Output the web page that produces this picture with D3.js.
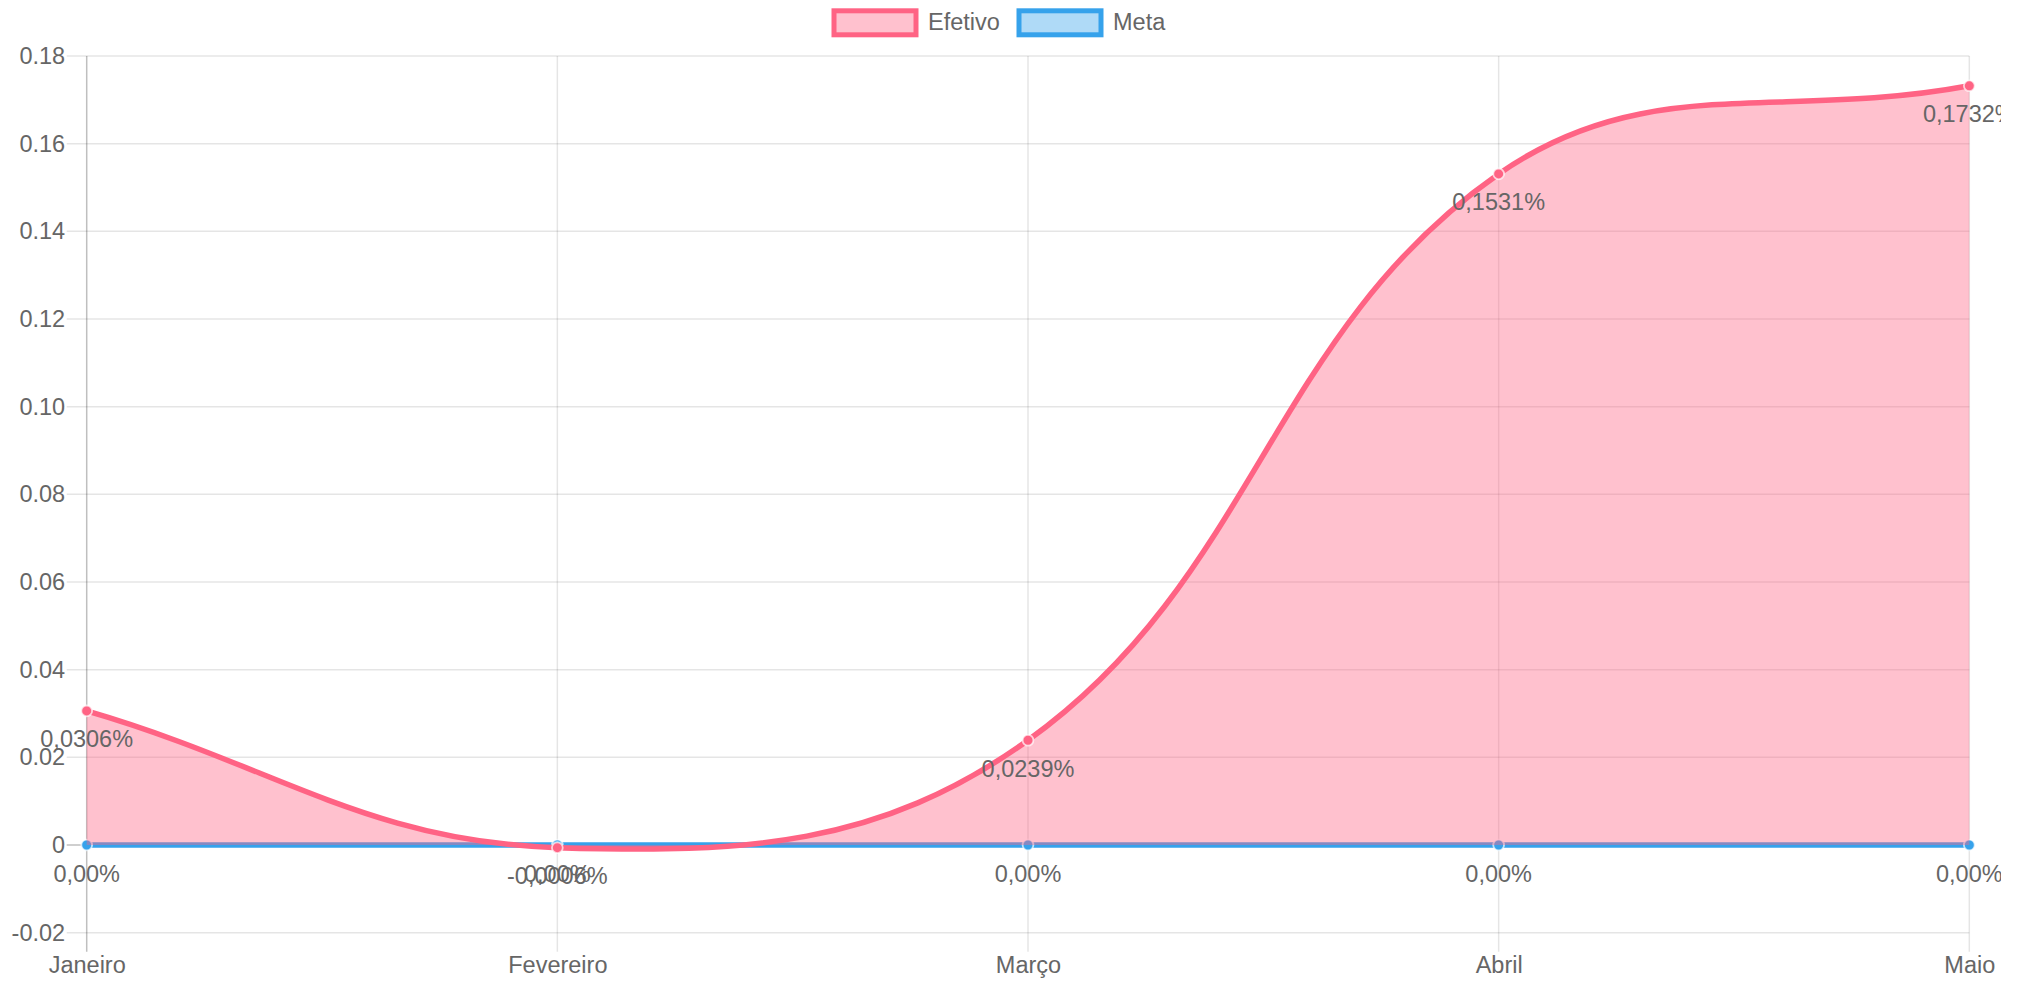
<!DOCTYPE html>
<html>
<head>
<meta charset="utf-8">
<script src="https://cdn.jsdelivr.net/npm/d3@7/dist/d3.min.js"></script>
<style>
  html, body { margin: 0; padding: 0; background: #fff; }
  svg { display: block; font-family: "Liberation Sans", Arial, Helvetica, sans-serif; }
</style>
</head>
<body>
<svg id="chart" width="2028" height="982"></svg>
<script>
// ---- data ----
const categories = ["Janeiro", "Fevereiro", "Março", "Abril", "Maio"];
const efetivo = [0.0306, -0.0006, 0.0239, 0.1531, 0.1732];
const meta = [0, 0, 0, 0, 0];
const efetivoLabels = ["0,0306%", "-0,0006%", "0,0239%", "0,1531%", "0,1732%"];
const metaLabels = ["0,00%", "0,00%", "0,00%", "0,00%", "0,00%"];
const yTicks = [-0.02, 0, 0.02, 0.04, 0.06, 0.08, 0.10, 0.12, 0.14, 0.16, 0.18];
const yTickLabels = ["-0.02", "0", "0.02", "0.04", "0.06", "0.08", "0.10", "0.12", "0.14", "0.16", "0.18"];
const seriesNames = ["Efetivo", "Meta"];

// ---- layout ----
const area = { left: 86.7, right: 1969.3, top: 56, bottom: 932.7 };
const FONT = 23.5;
const TXT = "#666";
const C_RED = "rgb(255,99,132)", C_RED_F = "rgba(255,99,132,0.4)";
const C_BLUE = "rgb(54,162,235)", C_BLUE_F = "rgba(54,162,235,0.4)";

const svg = d3.select("#chart");
const x = d3.scalePoint().domain(categories).range([area.left, area.right]);
const y = d3.scaleLinear().domain([-0.02, 0.18]).range([area.bottom, area.top]);

// clip for data labels (original canvas ends before the window edge)
svg.append("defs").append("clipPath").attr("id", "labelClip")
  .append("rect").attr("x", 0).attr("y", 0).attr("width", 2001).attr("height", 982);

// Chart.js-style bezier curve (tension 0.4, control points capped to chart area)
function ChartJsCurve(context) { this._context = context; }
ChartJsCurve.prototype = {
  areaStart() { this._line = 0; },
  areaEnd() { this._line = NaN; },
  lineStart() { this._xs = []; this._ys = []; },
  point(px, py) { this._xs.push(+px); this._ys.push(+py); },
  lineEnd() {
    const xs = this._xs, ys = this._ys, n = xs.length, ctx = this._context, t = 0.4;
    const cap = (v, a, b) => Math.max(Math.min(v, b), a);
    if (n) {
      if (this._line) ctx.lineTo(xs[0], ys[0]); else ctx.moveTo(xs[0], ys[0]);
      const pX = [], pY = [], nX = [], nY = [];
      for (let i = 0; i < n; i++) {
        const a = i > 0 ? i - 1 : i, c = i < n - 1 ? i + 1 : i;
        const d01 = Math.hypot(xs[i] - xs[a], ys[i] - ys[a]);
        const d12 = Math.hypot(xs[c] - xs[i], ys[c] - ys[i]);
        let s01 = d01 / (d01 + d12), s12 = d12 / (d01 + d12);
        if (isNaN(s01)) s01 = 0; if (isNaN(s12)) s12 = 0;
        const fa = t * s01, fb = t * s12;
        pX[i] = cap(xs[i] - fa * (xs[c] - xs[a]), area.left, area.right);
        pY[i] = cap(ys[i] - fa * (ys[c] - ys[a]), area.top, area.bottom);
        nX[i] = cap(xs[i] + fb * (xs[c] - xs[a]), area.left, area.right);
        nY[i] = cap(ys[i] + fb * (ys[c] - ys[a]), area.top, area.bottom);
      }
      for (let i = 0; i < n - 1; i++) {
        ctx.bezierCurveTo(nX[i], nY[i], pX[i + 1], pY[i + 1], xs[i + 1], ys[i + 1]);
      }
    }
    if (this._line || (this._line !== 0 && n === 1)) ctx.closePath();
    this._line = 1 - this._line;
  }
};
const chartCurve = ctx => new ChartJsCurve(ctx);

// ---- grid ----
const grid = svg.append("g");
grid.selectAll("line.h").data(yTicks).join("line")
  .attr("x1", area.left - 20).attr("x2", area.right)
  .attr("y1", d => y(d)).attr("y2", d => y(d))
  .attr("stroke", d => d === 0 ? "rgba(0,0,0,0.25)" : "rgba(0,0,0,0.1)")
  .attr("stroke-width", 1.5);
grid.selectAll("line.v").data(categories).join("line")
  .attr("x1", d => x(d)).attr("x2", d => x(d))
  .attr("y1", area.top).attr("y2", area.bottom + 19)
  .attr("stroke", (d, i) => i === 0 ? "rgba(0,0,0,0.25)" : "rgba(0,0,0,0.1)")
  .attr("stroke-width", 1.5);

// ---- axes ----
const yAxis = svg.append("g").attr("transform", `translate(${area.left},0)`)
  .call(d3.axisLeft(y).tickValues(yTicks).tickFormat((d, i) => yTickLabels[i]).tickSize(0).tickPadding(21.5));
const xAxis = svg.append("g").attr("transform", `translate(0,${area.bottom})`)
  .call(d3.axisBottom(x).tickSize(0).tickPadding(24));
[yAxis, xAxis].forEach(g => {
  g.select(".domain").remove();
  g.selectAll("text").attr("fill", TXT).style("font-size", FONT + "px")
    .style("font-family", '"Liberation Sans", Arial, sans-serif');
});

// ---- series ----
function drawSeries(values, stroke, fill) {
  const pts = values.map((v, i) => [x(categories[i]), y(v)]);
  const areaGen = d3.area().x(d => d[0]).y1(d => d[1]).y0(y(0)).curve(chartCurve);
  const lineGen = d3.line().x(d => d[0]).y(d => d[1]).curve(chartCurve);
  const g = svg.append("g");
  g.append("path").attr("d", areaGen(pts)).attr("fill", fill);
  g.append("path").attr("d", lineGen(pts)).attr("fill", "none")
    .attr("stroke", stroke).attr("stroke-width", 5.5).attr("stroke-linejoin", "round");
  g.selectAll("circle").data(pts).join("circle")
    .attr("cx", d => d[0]).attr("cy", d => d[1]).attr("r", 5.4)
    .attr("fill", stroke).attr("stroke", "rgba(255,255,255,0.7)").attr("stroke-width", 1.8);
  return pts;
}
// Chart.js draws later datasets first
const metaPts = drawSeries(meta, C_BLUE, C_BLUE_F);
const efePts = drawSeries(efetivo, C_RED, C_RED_F);

// ---- data labels ----
const labelLayer = svg.append("g").attr("clip-path", "url(#labelClip)");
function drawLabels(pts, labels) {
  labelLayer.append("g").selectAll("text").data(pts).join("text")
    .attr("x", d => d[0]).attr("y", d => d[1] + 28.5)
    .attr("text-anchor", "middle").attr("dominant-baseline", "central")
    .attr("fill", TXT).style("font-size", FONT + "px")
    .text((d, i) => labels[i]);
}
drawLabels(efePts, efetivoLabels);
drawLabels(metaPts, metaLabels);

// ---- legend ----
const legendItems = [
  { name: seriesNames[0], stroke: C_RED, fill: C_RED_F, bx: 834, tx: 928 },
  { name: seriesNames[1], stroke: C_BLUE, fill: C_BLUE_F, bx: 1019, tx: 1113 }
];
const lg = svg.append("g");
legendItems.forEach(it => {
  lg.append("rect").attr("x", it.bx).attr("y", 10.8).attr("width", 82).attr("height", 24)
    .attr("fill", it.fill).attr("stroke", it.stroke).attr("stroke-width", 5);
  lg.append("text").attr("x", it.tx).attr("y", 29.5).attr("fill", TXT)
    .style("font-size", FONT + "px").text(it.name);
});
</script>
</body>
</html>
